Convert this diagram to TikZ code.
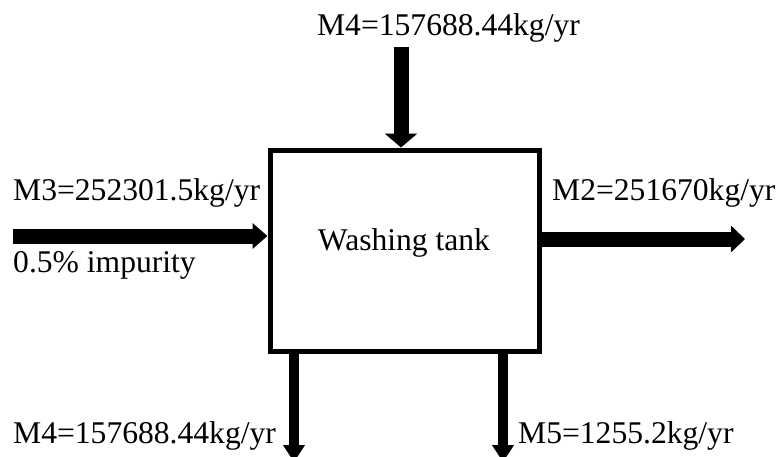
\documentclass[tikz,border=0pt]{standalone}
\usepackage{fontspec}
\setmainfont{Liberation Serif}
\usetikzlibrary{arrows.meta}
\tikzset{
  lbl/.style={inner sep=0pt, font=\fontsize{31.6}{36}\selectfont},
  tankbox/.style={draw, line width=5pt, minimum width=269pt, minimum height=201pt, inner sep=0pt},
  flowarrow/.style={draw, black}
}
\begin{document}
\begin{tikzpicture}[x=1pt,y=-1pt]
\useasboundingbox (0,0) rectangle (778,456);
\clip (0,0) rectangle (778,456);
\fill[white] (0,0) rectangle (778,456);
% tank
\node[tankbox] (tank) at (404.5,250.5) {};
\node[lbl, anchor=base] (tanklbl) at (404,250) {Washing tank};
% endpoints
\coordinate (in4) at (401,47);
\coordinate (in3) at (13,236);
\coordinate (out2) at (745,239);
\coordinate (out4) at (294,462);
\coordinate (out5) at (503,462);
% arrows
\draw[flowarrow, line width=15pt, -{Triangle[width=32pt,length=14pt]}] (in4) -- (tank.north -| in4);
\draw[flowarrow, line width=15pt, -{Triangle[width=25pt,length=15pt]}] (in3) -- (tank.west |- in3);
\draw[flowarrow, line width=15pt, -{Triangle[width=26pt,length=14pt]}] (tank.east |- out2) -- (out2);
\draw[flowarrow, line width=10pt, -{Triangle[width=21pt,length=17pt]}] (tank.south -| out4) -- (out4);
\draw[flowarrow, line width=10pt, -{Triangle[width=21pt,length=17pt]}] (tank.south -| out5) -- (out5);
% labels
\node[lbl, anchor=base] (m4top) at (448.5,35) {M4=157688.44kg/yr};
\node[lbl, anchor=base west] (m3) at (13,200) {M3=252301.5kg/yr};
\node[lbl, anchor=base west] (imp) at (13,272) {0.5\% impurity};
\node[lbl, anchor=base west] (m2) at (552,200) {M2=251670kg/yr};
\node[lbl, anchor=base west] (m4bot) at (13,443) {M4=157688.44kg/yr};
\node[lbl, anchor=base west] (m5) at (518,443) {M5=1255.2kg/yr};
\end{tikzpicture}
\end{document}
